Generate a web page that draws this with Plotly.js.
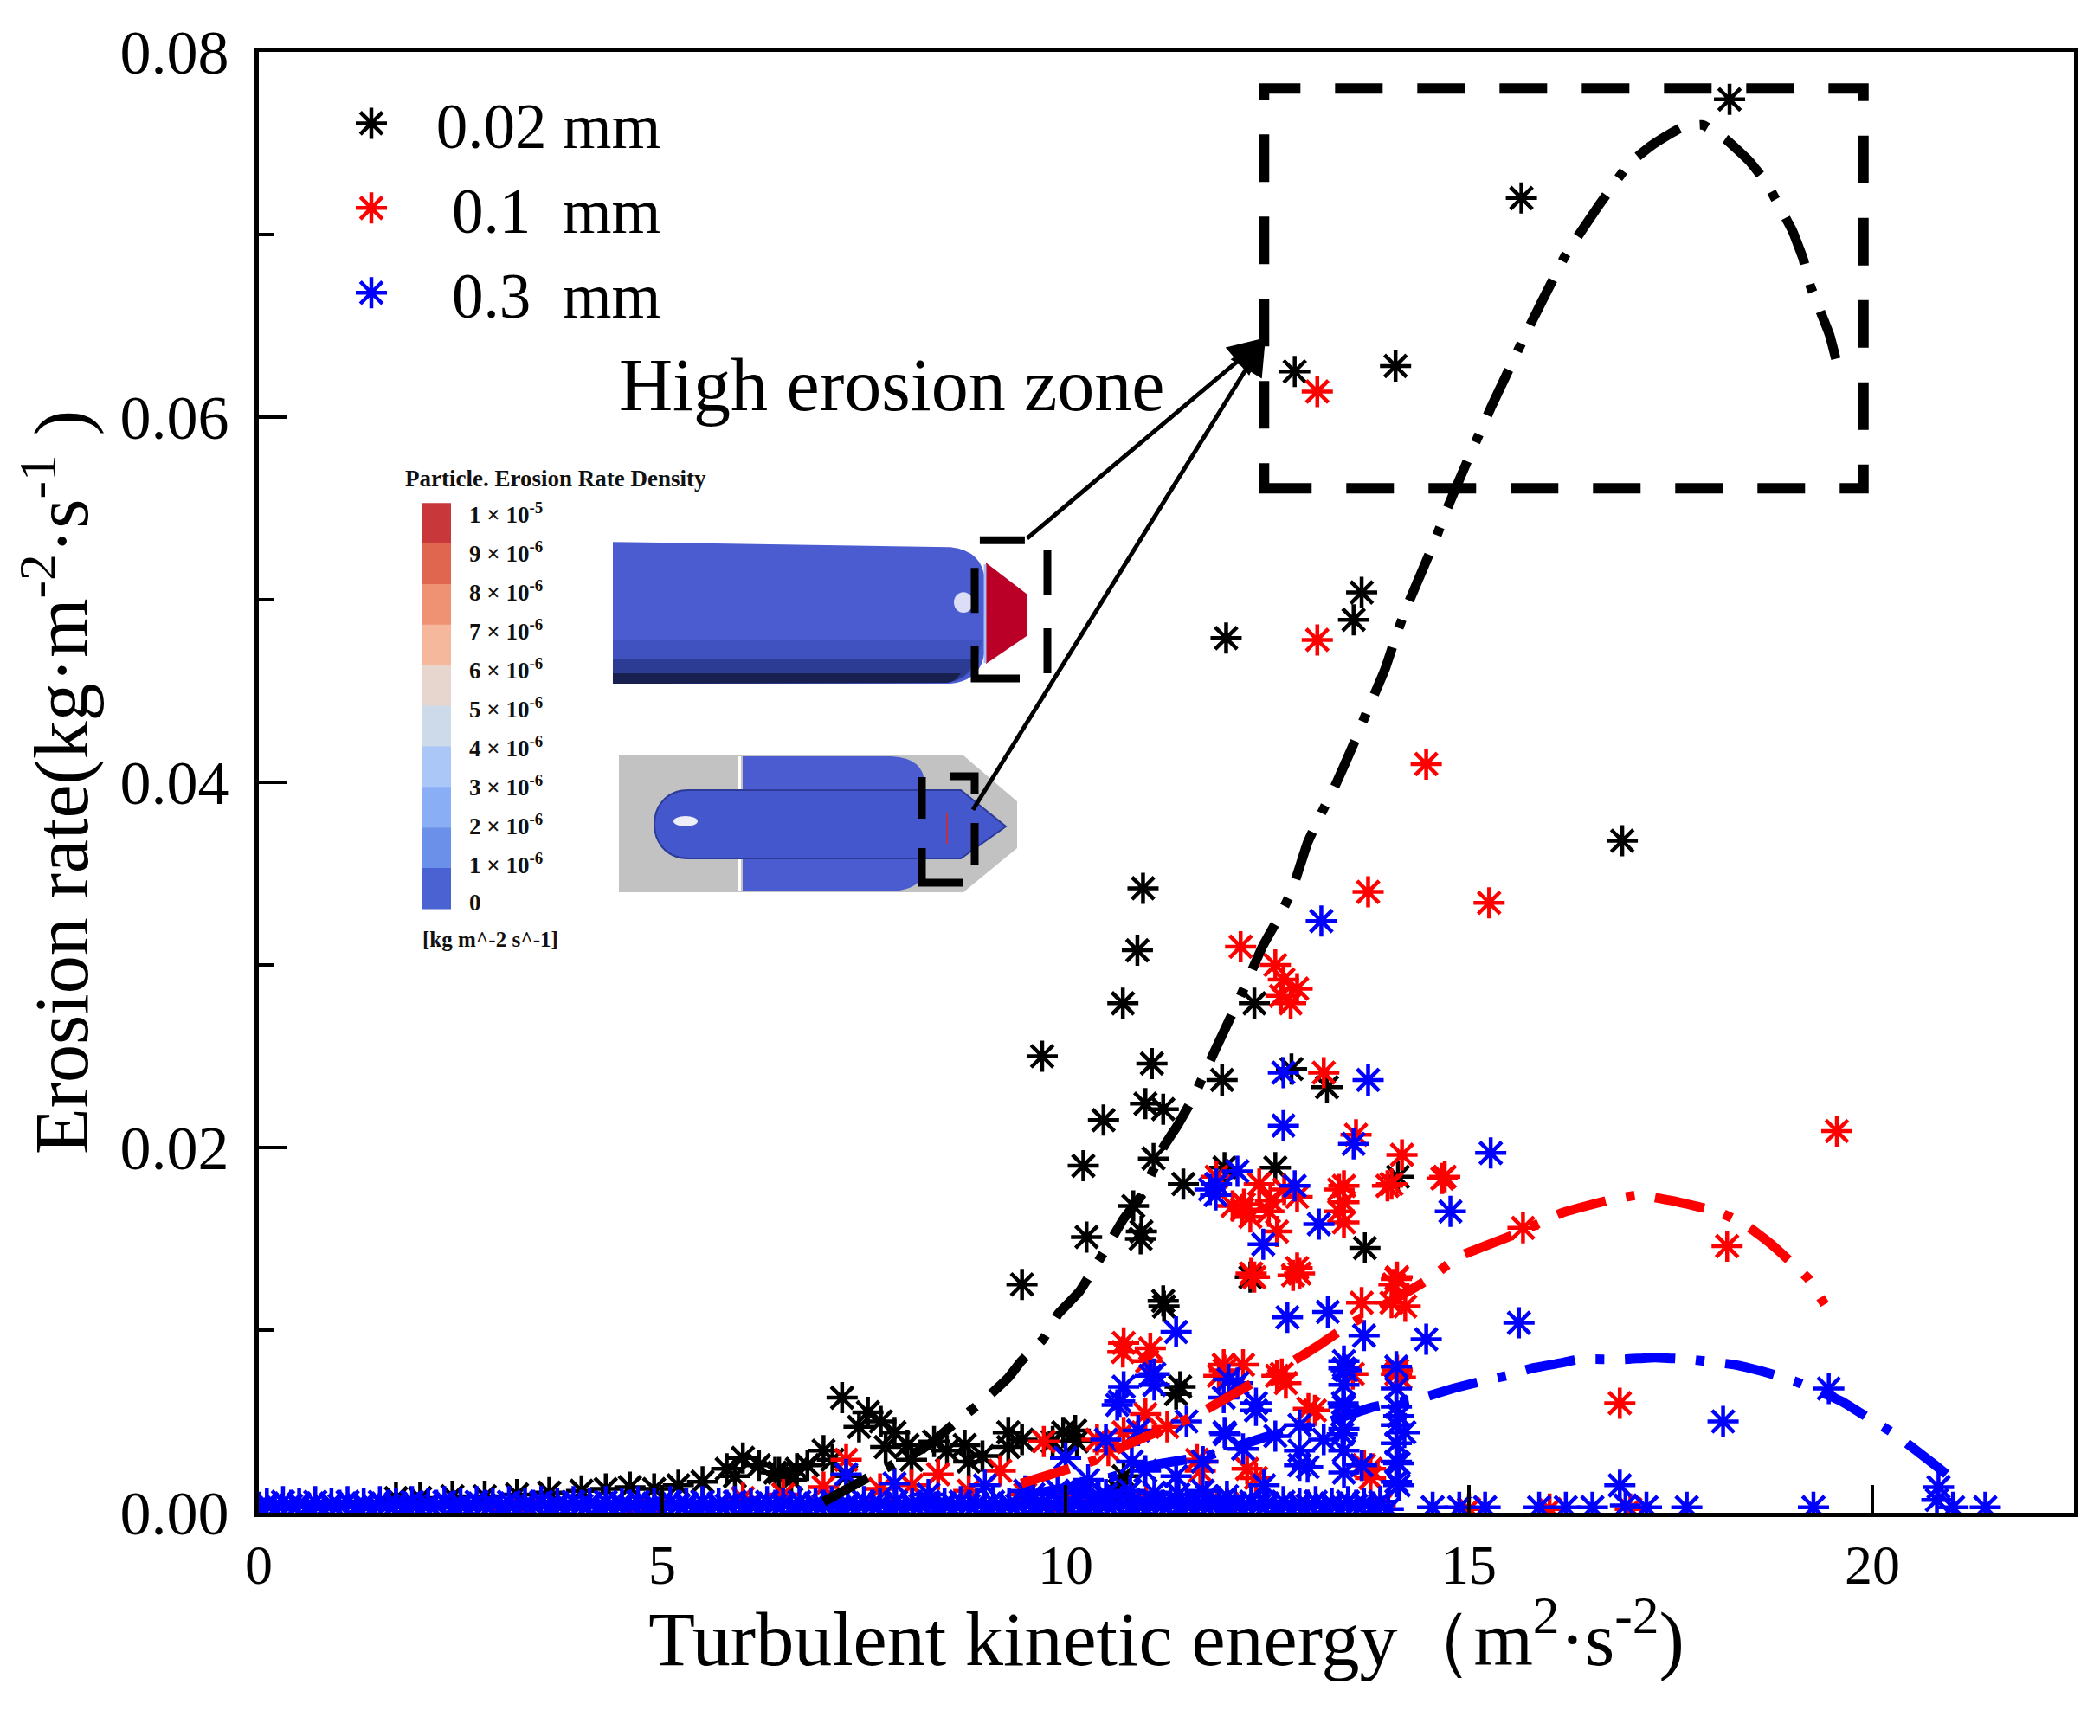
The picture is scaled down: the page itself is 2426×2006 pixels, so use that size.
<!DOCTYPE html>
<html>
<head>
<meta charset="utf-8">
<script src="https://cdn.plot.ly/plotly-3.0.1.min.js"></script>
<style>html,body{margin:0;padding:0;background:#fff}</style>
</head>
<body>
<div id="chart" style="width:2426px;height:2006px"></div>
<script>
//AXES
var xRange = [0, 22.5];
var yRange = [0, 0.08];
var xTicks = [0, 5, 10, 15, 20];
var yTicks = [0, 0.02, 0.04, 0.06, 0.08];
var yTickText = ['0.00', '0.02', '0.04', '0.06', '0.08'];
var yMinorTicks = [0.01, 0.03, 0.05, 0.07];

var seriesNames = ['\u00a0\u00a0\u00a00.02 mm', '\u00a0\u00a0\u00a0\u00a00.1\u00a0\u00a0mm', '\u00a0\u00a0\u00a0\u00a00.3\u00a0\u00a0mm'];
var seriesColors = ['#000000', '#ff0000', '#0000ff'];

//SCATTER DATA
var blackX = [18.23,15.65,12.84,14.09,11.99,13.67,13.57,16.90,10.96,10.89,10.71,9.71,11.07,10.47,11.94,10.99,11.21,12.34,12.80,13.24,
  10.22,10.84,10.94,10.26,11.46,11.97,12.60,13.71,14.12,12.29,11.22,9.46,7.23,11.37,11.09,10.93,11.21,11.42,10.72,9.97,
  7.55,7.44,7.71,7.88,7.77,8.04,8.09,8.37,8.53,8.75,8.97,8.80,9.29,9.46,9.29,10.12,7.00,6.67,6.45,7.11,7.28,10.67,
  9.84,10.14,10.68,
  1.7,2.0,2.4,2.8,3.2,3.6,4.0,4.3,4.6,4.9,5.2,5.5,5.8,6.0,6.2,6.4,6.6,5.9,6.8];
var blackY = [0.0774,0.0720,0.0625,0.0628,0.0479,0.0504,0.0489,0.0368,0.0342,0.0308,0.0279,0.0250,0.0246,0.0215,0.0237,0.0224,0.0221,0.0279,0.0243,0.0233,
  0.0190,0.0168,0.0154,0.0151,0.0180,0.0189,0.0189,0.0145,0.0184,0.0129,0.0113,0.0125,0.0063,0.0065,0.0194,0.0150,0.0116,0.0069,0.0020,0.0044,
  0.0055,0.0047,0.0050,0.0044,0.0036,0.0037,0.0029,0.0039,0.0034,0.0037,0.0031,0.0028,0.0044,0.0040,0.0036,0.0045,0.0034,0.0024,0.0022,0.0029,0.0020,0.0012,
  0.0039,0.0039,0.0009,
  0.0008,0.0008,0.0009,0.0009,0.0010,0.0011,0.0012,0.0013,0.0014,0.0013,0.0015,0.0017,0.0024,0.0030,0.0026,0.0022,0.0018,0.0020,0.0026];

var redX = [13.12,13.12,14.47,13.75,15.25,12.17,12.70,12.87,12.79,13.20,13.60,14.17,14.04,13.39,13.39,14.67,15.67,18.20,19.56,16.87,
  12.40,12.07,12.29,12.62,12.87,12.34,12.82,14.07,14.04,14.15,10.71,11.01,11.90,12.20,
  12.60,12.67,13.45,12.54,12.21,11.87,12.71,12.87,14.11,10.72,11.05,11.96,12.62,14.11,13.70,11.63,
  9.73,11.97,12.90,12.30,12.19,12.52,13.45,13.45,13.99,14.70,14.10,14.21,13.67,14.10,13.56,12.68,11.26,10.72,10.39,11.70,
  12.25,13.01,13.78,7.28,8.42,9.19,8.09,7.70,
  12.73,10.99,13.09,10.53,11.67,12.36,13.78,9.95,
  3.0,3.3,4.6,4.9,6.0,6.5,7.0,8.8,9.5,10.2,11.0,12.0,13.0,13.9,15.0,16.0,17.0];
var redY = [0.0614,0.0478,0.0410,0.0340,0.0334,0.0310,0.0292,0.0287,0.0279,0.0241,0.0207,0.0196,0.0180,0.0177,0.0165,0.0183,0.0156,0.0146,0.0209,0.0060,
  0.0180,0.0168,0.0162,0.0154,0.0173,0.0129,0.0130,0.0125,0.0115,0.0074,0.0088,0.0083,0.0075,0.0081,
  0.0300,0.0283,0.0159,0.0171,0.0169,0.0184,0.0177,0.0134,0.0129,0.0093,0.0090,0.0081,0.0075,0.0078,0.0026,0.0029,
  0.0039,0.0078,0.0131,0.0131,0.0166,0.0165,0.0179,0.0170,0.0179,0.0184,0.0128,0.0113,0.0115,0.0076,0.0076,0.0076,0.0047,0.0044,0.0040,0.0028,
  0.0024,0.0057,0.0024,0.0029,0.0021,0.0023,0.0015,0.0013,
  0.0071,0.0054,0.0056,0.0034,0.0023,0.0019,0.0019,0.0005,
  0.0002,0.0002,0.0002,0.0002,0.0008,0.0010,0.0014,0.0012,0.0010,0.0008,0.0006,0.0005,0.0004,0.0004,0.0002,0.0002,0.0002];

var blueX = [13.17,12.70,13.75,12.70,13.57,15.27,12.84,14.77,13.14,12.45,11.87,12.75,13.25,13.70,14.47,15.62,11.37,18.15,19.46,16.87,20.80,
  11.79,12.13,11.86,11.10,10.67,12.02,13.45,12.36,11.97,12.90,10.82,10.28,11.37,12.46,7.28,7.88,11.96,11.05,10.72,20.82,
  14.10,14.10,14.10,14.10,14.10,14.10,14.10,13.45,13.45,13.45,13.45,13.45,13.45,
  10.50,10.90,11.50,11.70,12.20,12.60,13.00,13.20,9.00,9.50,8.30,10.00,12.90,
  11.10,10.64,12.13,12.36,13.48,13.44,13.43,14.13,14.20,14.13,14.13,11.98,12.90,13.67,10.99,10.41,11.75,
  9.60,9.90,10.20,10.50,10.80,11.10,11.40,11.70,12.00,
  14.55,14.88,15.20,15.87,16.20,16.53,16.94,17.20,17.70,19.27,21.00,21.40];
var blueY = [0.0324,0.0241,0.0237,0.0212,0.0202,0.0197,0.0179,0.0165,0.0158,0.0147,0.0180,0.0107,0.0110,0.0097,0.0095,0.0104,0.0099,0.0050,0.0068,0.0015,0.0007,
  0.0177,0.0187,0.0174,0.0076,0.0061,0.0073,0.0079,0.0060,0.0044,0.0034,0.0028,0.0018,0.0020,0.0015,0.0021,0.0016,0.0063,0.0075,0.0069,0.0014,
  0.0080,0.0068,0.0058,0.0048,0.0038,0.0028,0.0017,0.0083,0.0070,0.0058,0.0046,0.0034,0.0022,
  0.0040,0.0045,0.0050,0.0028,0.0035,0.0042,0.0025,0.0040,0.0015,0.0012,0.0010,0.0030,0.0048,
  0.0070,0.0059,0.0071,0.0056,0.0078,0.0060,0.0043,0.0053,0.0044,0.0027,0.0015,0.0043,0.0026,0.0026,0.0023,0.0009,0.0009,
  0.0010,0.0012,0.0011,0.0010,0.0012,0.0011,0.0010,0.0012,0.0009,
  0.0003,0.0003,0.0003,0.0003,0.0003,0.0003,0.0004,0.0003,0.0003,0.0003,0.0003,0.0003];

// the solid blue band lying on the x axis (two staggered rows)
var blueBaseX = [0,0.2,0.4,0.6,0.8,1.0,1.2,1.4,1.6,1.8,2.0,2.2,2.4,2.6,2.8,3.0,3.2,3.4,3.6,3.8,4.0,4.2,4.4,4.6,4.8,5.0,5.2,5.4,5.6,5.8,
  6.0,6.2,6.4,6.6,6.8,7.0,7.2,7.4,7.6,7.8,8.0,8.2,8.4,8.6,8.8,9.0,9.2,9.4,9.6,9.8,10.0,10.2,10.4,10.6,10.8,11.0,11.2,11.4,11.6,11.8,
  12.0,12.2,12.4,12.6,12.8,13.0,13.2,13.4,13.6,13.8,14.0];
var blueBaseY = [0.0003,0.0002,0.0004,0.0003,0.0002,0.0004,0.0003,0.0002,0.0004,0.0003,
  0.0002,0.0004,0.0003,0.0002,0.0004,0.0003,0.0002,0.0004,0.0003,0.0002,
  0.0004,0.0003,0.0002,0.0004,0.0003,0.0002,0.0004,0.0003,0.0002,0.0004,
  0.0003,0.0002,0.0004,0.0003,0.0002,0.0004,0.0003,0.0002,0.0004,0.0003,
  0.0002,0.0004,0.0003,0.0002,0.0004,0.0003,0.0002,0.0004,0.0003,0.0002,
  0.0004,0.0003,0.0002,0.0004,0.0003,0.0002,0.0004,0.0003,0.0002,0.0004,
  0.0003,0.0002,0.0004,0.0003,0.0002,0.0004,0.0003,0.0002,0.0004,0.0003,
  0.0002];
var blueBase2X = [0.1,0.3,0.5,0.7,0.9,1.1,1.3,1.5,1.7,1.9,2.1,2.3,2.5,2.7,2.9,3.1,3.3,3.5,3.7,3.9,4.1,4.3,4.5,4.7,4.9,5.1,5.3,5.5,5.7,5.9,
  6.1,6.3,6.5,6.7,6.9,7.1,7.3,7.5,7.7,7.9,8.1,8.3,8.5,8.7,8.9,9.1,9.3,9.5,9.7,9.9,10.1,10.3,10.5,10.7,10.9,11.1,11.3,11.5,11.7,11.9,
  12.1,12.3,12.5,12.7,12.9,13.1,13.3,13.5,13.7,13.9];
var blueBase2Y = [0.0005,0.0006,0.0005,0.0006,0.0005,0.0006,0.0005,0.0006,0.0005,0.0006,
  0.0005,0.0006,0.0005,0.0006,0.0005,0.0006,0.0005,0.0006,0.0005,0.0006,
  0.0005,0.0006,0.0005,0.0006,0.0005,0.0006,0.0005,0.0006,0.0005,0.0006,
  0.0005,0.0006,0.0005,0.0006,0.0005,0.0006,0.0005,0.0006,0.0005,0.0006,
  0.0005,0.0006,0.0005,0.0006,0.0005,0.0006,0.0005,0.0006,0.0005,0.0006,
  0.0005,0.0006,0.0005,0.0006,0.0005,0.0006,0.0005,0.0006,0.0005,0.0006,
  0.0005,0.0006,0.0005,0.0006,0.0005,0.0006,0.0005,0.0006,0.0005,0.0006];

//FITTED CURVES (dash-dot)
var blackFitX = [7.0,7.5,8.3,8.65,9.0,9.29,9.45,9.72,9.91,10.17,10.52,10.72,10.93,11.1,11.21,11.4,11.59,11.86,12.02,12.19,
  12.44,12.63,12.8,13.0,13.17,13.34,13.58,13.71,13.96,14.08,14.2,14.45,14.6,14.74,14.99,15.14,15.28,15.57,15.72,15.9,
  16.2,16.38,16.61,16.99,17.27,17.65,17.9,18.19,18.48,18.69,19.01,19.14,19.23,19.47,19.57];
var blackFitY = [0.0006,0.0018,0.0037,0.0050,0.0062,0.0074,0.0083,0.0095,0.0109,0.0121,0.0146,0.0161,0.0173,0.0189,0.0200,0.0213,0.0228,0.0254,0.0269,0.0285,
  0.0310,0.0325,0.0340,0.0367,0.0383,0.0398,0.0422,0.0436,0.0462,0.0478,0.0493,0.0519,0.0535,0.0551,0.0577,0.0592,0.0606,0.0633,0.0647,0.0663,
  0.0689,0.0701,0.0716,0.0739,0.0749,0.0759,0.0760,0.0752,0.0740,0.0728,0.0702,0.0687,0.0672,0.0645,0.0628];
var redFitX = [9.45,10.38,10.8,11.6,12.28,12.82,13.15,13.48,14.28,14.54,14.86,15.6,16.14,16.72,17.1,17.5,18.08,18.42,18.75,19.21,19.41];
var redFitY = [0.0016,0.0029,0.0038,0.0053,0.0070,0.0083,0.0092,0.0102,0.0122,0.0129,0.0140,0.0153,0.0164,0.0171,0.0174,0.0171,0.0165,0.0158,0.0147,0.0128,0.0114];
var blueFitX = [9.68,10.38,11.06,11.75,12.52,13.13,13.82,14.43,14.8,15.16,15.46,15.77,16.14,16.35,16.93,17.3,17.72,18.3,18.67,19.04,19.62,19.95,20.28,20.78,21.03];
var blueFitY = [0.0011,0.0017,0.0026,0.0031,0.0042,0.0048,0.0058,0.0063,0.0068,0.0072,0.0075,0.0079,0.0082,0.0084,0.0084,0.0085,0.0084,0.0081,0.0077,0.0072,0.0061,0.0052,0.0043,0.0026,0.0017];

//INSET COLOUR SCALE
var cbColors = ['#c8373a','#e0664f','#ef9274','#f5b89c','#e7d6ce','#ccdaea','#aac7f7','#8aaef5','#6a90ea','#4a62d2'];
var cbLabels = ['1 × 10<sup>-5</sup>','9 × 10<sup>-6</sup>','8 × 10<sup>-6</sup>','7 × 10<sup>-6</sup>','6 × 10<sup>-6</sup>',
  '5 × 10<sup>-6</sup>','4 × 10<sup>-6</sup>','3 × 10<sup>-6</sup>','2 × 10<sup>-6</sup>','1 × 10<sup>-6</sup>','0'];

//HELPERS
var SERIF = 'Liberation Serif, Times New Roman, serif';
var PL = 299, PR = 2396, PT = 59.5, PB = 1748.5;   // plot frame in page pixels
var MSIZE = 30, MLINE = 4.5;

function px(o){ return (o - PL) / (PR - PL); }
function py(o){ return (PB - o) / (PB - PT); }

// path from page-pixel commands, e.g. [['M',x,y],['L',x,y],['Z']]
function pathOf(cmds){
	return cmds.map(function(c){
		var s = c[0];
		for(var i = 1; i < c.length; i += 2){
			s += (i > 1 ? ' ' : '') + px(c[i]).toFixed(5) + ',' + py(c[i+1]).toFixed(5);
		}
		return s;
	}).join(' ');
}

function pShape(cmds, fill, lineColor, lineWidth){
	return {type: 'path', xref: 'paper', yref: 'paper', path: pathOf(cmds),
		fillcolor: fill, line: {color: lineColor || 'rgba(0,0,0,0)', width: lineWidth || 0}, layer: 'above'};
}

function pRect(x0, y0, x1, y1, fill, line){
	return {type: 'rect', xref: 'paper', yref: 'paper', x0: px(x0), x1: px(x1), y0: py(y1), y1: py(y0),
		fillcolor: fill, line: line || {width: 0}, layer: 'above'};
}

function pText(x, y, text, size, anchor, bold){
	return {xref: 'paper', yref: 'paper', x: px(x), y: py(y), text: bold ? '<b>' + text + '</b>' : text,
		showarrow: false, xanchor: anchor || 'left', yanchor: 'middle',
		font: {family: SERIF, size: size, color: '#111'}};
}

function points(x, y, color, name){
	return {x: x, y: y, type: 'scatter', mode: 'markers', name: name, cliponaxis: true,
		marker: {symbol: 'asterisk-open', size: MSIZE, color: color, line: {color: color, width: MLINE}},
		hoverinfo: 'x+y'};
}

function fitLine(x, y, color){
	return {x: x, y: y, type: 'scatter', mode: 'lines', showlegend: false, hoverinfo: 'skip',
		line: {color: color, width: 11, dash: '58px,24px,10px,24px', shape: 'spline', smoothing: 0.3}};
}

//TRACES
var traces = [
	points(blackX, blackY, seriesColors[0], seriesNames[0]),
	points(redX, redY, seriesColors[1], seriesNames[1]),
	points(blueX.concat(blueBaseX, blueBase2X), blueY.concat(blueBaseY, blueBase2Y), seriesColors[2], seriesNames[2]),
	fitLine(blackFitX, blackFitY, seriesColors[0]),
	fitLine(redFitX, redFitY, seriesColors[1]),
	fitLine(blueFitX, blueFitY, seriesColors[2])
];

//SHAPES: high erosion box + inset picture
var shapes = [];
shapes.push({type: 'rect', xref: 'x', yref: 'y', x0: 12.46, x1: 19.89, y0: 0.0561, y1: 0.0780,
	line: {color: '#000', width: 12, dash: '55px,40px'}, fillcolor: 'rgba(0,0,0,0)'});

// colour bar
var cbTop = 581, cbBot = 1050, cbStep = (cbBot - cbTop) / cbColors.length;
cbColors.forEach(function(c, i){
	shapes.push(pRect(488, cbTop + i * cbStep, 521, cbTop + (i + 1) * cbStep + 0.5, c));
});

// upper body, side view
var bodyBlue = '#4a5cd0';
shapes.push(pShape([['M',708,626],['L',1098,632],['Q',1136,636,1138,672],['L',1138,748],['Q',1136,786,1098,790],['L',708,790],['Z']], bodyBlue));
shapes.push(pShape([['M',708,740],['L',1134,740],['Q',1130,784,1098,787],['L',708,787],['Z']], '#3f52bf'));
shapes.push(pShape([['M',708,762],['L',1126,762],['Q',1118,786,1096,788],['L',708,789],['Z']], '#2c3c94'));
shapes.push(pShape([['M',708,778],['L',1110,778],['Q',1104,788,1094,789],['L',708,790],['Z']], '#17204f'));
shapes.push({type: 'circle', xref: 'paper', yref: 'paper', x0: px(1102), x1: px(1124), y0: py(708), y1: py(684),
	fillcolor: 'rgba(255,255,255,0.8)', line: {width: 0}, layer: 'above'});
shapes.push(pShape([['M',1139,650],['L',1186,686],['L',1186,735],['L',1139,767],['Z']], '#bb0028'));
shapes.push({type: 'line', xref: 'paper', yref: 'paper', x0: px(1138), x1: px(1138), y0: py(652), y1: py(766),
	line: {color: '#a8bff5', width: 3}, layer: 'above'});
shapes.push(pRect(1126, 624, 1210, 784, 'rgba(0,0,0,0)', {color: '#000', width: 9, dash: '52px,38px'}));

// lower body, plan view
shapes.push(pShape([['M',715,873],['L',1113,873],['L',1175,926],['L',1175,980],['L',1113,1031],['L',715,1031],['Z']], '#c2c2c2'));
shapes.push(pShape([['M',858,874],['L',1030,874],['Q',1068,876,1068,906],['L',1068,1000],['Q',1068,1028,1030,1030],['L',858,1030],['Z']], bodyBlue));
shapes.push({type: 'line', xref: 'paper', yref: 'paper', x0: px(854), x1: px(854), y0: py(874), y1: py(1030),
	line: {color: '#ffffff', width: 4}, layer: 'above'});
shapes.push(pShape([['M',795,913],['L',1110,913],['L',1162,955],['L',1110,992],['L',795,992],['C',743,992,743,913,795,913],['Z']], '#4557cc', '#2c3b98', 2));
shapes.push({type: 'circle', xref: 'paper', yref: 'paper', x0: px(778), x1: px(806), y0: py(955), y1: py(943),
	fillcolor: 'rgba(255,255,255,0.9)', line: {width: 0}, layer: 'above'});
shapes.push({type: 'line', xref: 'paper', yref: 'paper', x0: px(1094), x1: px(1094), y0: py(940), y1: py(975),
	line: {color: '#c03040', width: 2}, layer: 'above'});
shapes.push(pRect(1065, 897, 1126, 1020, 'rgba(0,0,0,0)', {color: '#000', width: 9, dash: '48px,34px'}));

//ANNOTATIONS
var annotations = [];
cbLabels.forEach(function(t, i){
	annotations.push(pText(540, 593 + i * 45, t, 27, 'left', true));
});
annotations.push(pText(466, 553, 'Particle. Erosion Rate Density', 27, 'left', true));
annotations.push(pText(486, 1086, '[kg m^-2 s^-1]', 25, 'left', true));
annotations.push({xref: 'paper', yref: 'paper', x: px(1030), y: py(445), text: 'High erosion zone', showarrow: false,
	xanchor: 'center', yanchor: 'middle', font: {family: SERIF, size: 86, color: '#000'}});
[[1185, 623], [1123, 937]].forEach(function(s){
	annotations.push({xref: 'paper', yref: 'paper', x: px(1462), y: py(390), text: '', showarrow: true,
		ax: s[0] - 1462, ay: s[1] - 390, arrowhead: 2, arrowsize: 1.7, arrowwidth: 5, arrowcolor: '#000', standoff: 0});
});

//LAYOUT
var layout = {
	width: 2426, height: 2006,
	margin: {l: PL, r: 2426 - PR, t: PT, b: 2006 - PB, pad: 0},
	paper_bgcolor: '#ffffff', plot_bgcolor: '#ffffff',
	font: {family: SERIF, color: '#000'},
	showlegend: true,
	legend: {x: px(409), y: py(88), xanchor: 'left', yanchor: 'top', bgcolor: 'rgba(0,0,0,0)',
		font: {family: SERIF, size: 73, color: '#000'}},
	xaxis: {
		range: xRange, tickmode: 'array', tickvals: xTicks,
		ticks: 'inside', ticklen: 32, tickwidth: 4, tickcolor: '#000',
		showline: true, linewidth: 5, linecolor: '#000', mirror: true,
		showgrid: false, zeroline: false,
		tickfont: {family: SERIF, size: 64}, ticklabelstandoff: 0,
		title: {text: 'Turbulent kinetic energy（m<sup>2</sup>·s<sup>-2</sup>)', font: {family: SERIF, size: 88}, standoff: 0}
	},
	yaxis: {
		range: yRange, tickmode: 'array', tickvals: yTicks, ticktext: yTickText,
		ticks: 'inside', ticklen: 32, tickwidth: 4, tickcolor: '#000',
		minor: {tickmode: 'array', tickvals: yMinorTicks, ticks: 'inside', ticklen: 17, tickwidth: 4, tickcolor: '#000'},
		showline: true, linewidth: 5, linecolor: '#000', mirror: true,
		showgrid: false, zeroline: false,
		tickfont: {family: SERIF, size: 72}, ticklabelstandoff: 15,
		title: {text: 'Erosion rate(kg·m<sup>-2</sup>·s<sup>-1</sup> )', font: {family: SERIF, size: 88}, standoff: 22}
	},
	shapes: shapes,
	annotations: annotations
};

function nudge(el, dx, dy){
	if(!el) return;
	var t = el.getAttribute('transform') || '';
	el.setAttribute('transform', 'translate(' + dx + ',' + dy + ') ' + t);
}

Plotly.newPlot('chart', traces, layout, {displayModeBar: false}).then(function(gd){
	// legend symbols are capped at 16px by plotly; blow them up to match the plot markers
	var k = MSIZE / 16;
	gd.querySelectorAll('.legend path.scatterpts').forEach(function(p){
		var t = p.getAttribute('transform') || '';
		p.setAttribute('transform', t + ' scale(' + k + ')');
		p.style.strokeWidth = (MLINE / k) + 'px';
	});
	// nudge the axis titles to where the original sets them
	nudge(gd.querySelector('.g-xtitle text'), 0, -12);
	nudge(gd.querySelector('.g-ytitle text'), 9, 0);
});
</script>
</body>
</html>
